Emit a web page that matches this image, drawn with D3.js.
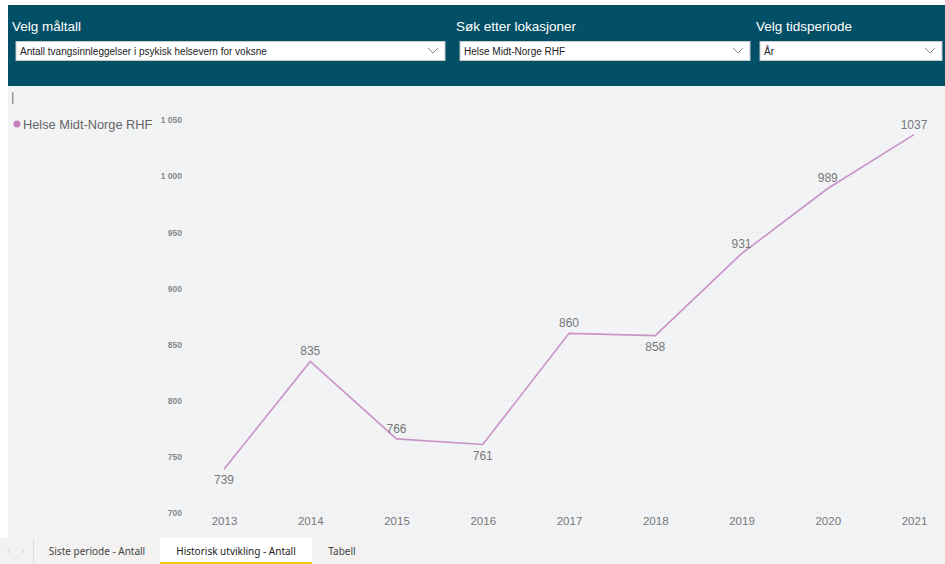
<!DOCTYPE html>
<html>
<head>
<meta charset="utf-8">
<script src="https://cdn.jsdelivr.net/npm/d3@7"></script>
<style>
  body { margin: 0; background: #fff; font-family: "Liberation Sans", Arial, sans-serif; }
  svg { display: block; }
</style>
</head>
<body>
<script>
const years = ["2013", "2014", "2015", "2016", "2017", "2018", "2019", "2020", "2021"];
const values = [739, 835, 766, 761, 860, 858, 931, 989, 1037];
const labelBelow = [true, false, false, true, false, true, false, false, false];
const yTicks = [700, 750, 800, 850, 900, 950, 1000, 1050];
const seriesName = "Helse Midt-Norge RHF";
const filters = [
  { title: "Velg måltall", value: "Antall tvangsinnleggelser i psykisk helsevern for voksne", x: 16, w: 429 },
  { title: "Søk etter lokasjoner", value: "Helse Midt-Norge RHF", x: 460, w: 290 },
  { title: "Velg tidsperiode", value: "År", x: 760, w: 182 }
];
const tabs = ["Siste periode - Antall", "Historisk utvikling - Antall", "Tabell"];

let width = 945,
    height = 564;

let svg = d3.select("body").append("svg")
    .attr("width", width)
    .attr("height", height);

// page background
svg.append("rect").attr("x", 8).attr("y", 86).attr("width", width - 8).attr("height", 452).attr("fill", "#f2f3f5");

// header band
svg.append("rect").attr("x", 8).attr("y", 5).attr("width", width - 8).attr("height", 81).attr("fill", "#034f66");

let f = svg.selectAll(".filter")
    .data(filters)
    .enter().append("g")
    .attr("class", "filter");

f.append("text")
    .attr("x", d => d.x - 4)
    .attr("y", 31)
    .attr("fill", "#fff")
    .attr("font-size", 13.5)
    .text(d => d.title);

f.append("rect")
    .attr("x", d => d.x)
    .attr("y", 41.5)
    .attr("width", d => d.w)
    .attr("height", 19)
    .attr("fill", "#fff")
    .attr("stroke", "#c8c8c8");

f.append("text")
    .attr("x", d => d.x + 4)
    .attr("y", 55)
    .attr("fill", "#222")
    .attr("font-size", 10)
    .text(d => d.value);

f.append("path")
    .attr("d", d => {
        let cx = d.x + d.w - 12;
        return `M${cx - 5},48 L${cx},53 L${cx + 5},48`;
    })
    .attr("fill", "none")
    .attr("stroke", "#888")
    .attr("stroke-width", 1);

// little gray marker
svg.append("rect").attr("x", 12).attr("y", 92).attr("width", 1.5).attr("height", 12).attr("fill", "#999");

// chart
let x = d3.scalePoint().domain(years).range([224, 914]);
let y = d3.scaleLinear().domain([700, 1050]).range([513, 120]);

let grid = svg.append("g");
grid.selectAll("line")
    .data(yTicks)
    .enter().append("line")
    .attr("x1", 188)
    .attr("x2", 945)
    .attr("y1", d => y(d))
    .attr("y2", d => y(d))
    .attr("stroke", "#dcdee2")
    .attr("stroke-dasharray", "1,3");

let yAxis = svg.append("g")
    .attr("transform", "translate(182,0)")
    .call(d3.axisLeft(y).tickValues(yTicks).tickSize(0).tickPadding(0)
        .tickFormat(d => d3.format(",")(d).replace(",", " ")));
yAxis.select(".domain").remove();
yAxis.selectAll("text")
    .attr("fill", "#888")
    .attr("font-size", 8.5)
    .attr("font-weight", "bold")
    .attr("font-family", "Liberation Sans, Arial, sans-serif")
    .attr("dy", "0.32em");

let xAxis = svg.append("g")
    .attr("transform", "translate(0,517)")
    .call(d3.axisBottom(x).tickSize(0).tickPadding(0));
xAxis.select(".domain").remove();
xAxis.selectAll("text")
    .attr("fill", "#777")
    .attr("font-size", 11.5)
    .attr("font-family", "Liberation Sans, Arial, sans-serif")
    .attr("dy", "0.71em");

let line = d3.line()
    .x((d, i) => x(years[i]))
    .y(d => y(d));

svg.append("path")
    .datum(values)
    .attr("d", line)
    .attr("fill", "none")
    .attr("stroke", "#c993c6")
    .attr("stroke-width", 1.6);

svg.selectAll(".labels")
    .data(values)
    .enter().append("text")
    .attr("class", "labels")
    .attr("text-anchor", "middle")
    .attr("x", (d, i) => x(years[i]))
    .attr("y", (d, i) => labelBelow[i] ? y(d) + 15 : y(d) - 6)
    .attr("fill", "#777")
    .attr("font-size", 12)
    .text(d => d);

// legend
svg.append("circle").attr("cx", 17).attr("cy", 124).attr("r", 3.5).attr("fill", "#c47fbc");
svg.append("text")
    .attr("x", 23)
    .attr("y", 129)
    .attr("fill", "#666")
    .attr("font-size", 12.8)
    .text(seriesName);

// tab bar
svg.append("rect").attr("x", 0).attr("y", 538).attr("width", width).attr("height", 26).attr("fill", "#f3f2f1");
svg.append("text").attr("x", 7).attr("y", 554).attr("fill", "#c4c4c4").attr("font-size", 8).text("‹");
svg.append("text").attr("x", 22).attr("y", 554).attr("fill", "#c4c4c4").attr("font-size", 8).text("›");
svg.append("line").attr("x1", 33.5).attr("x2", 33.5).attr("y1", 538).attr("y2", 564).attr("stroke", "#ddd");

let tabX = [34, 160, 312];
let tabW = [126, 152, 60];
let t = svg.selectAll(".tab")
    .data(tabs)
    .enter().append("g")
    .attr("class", "tab");
t.append("rect")
    .attr("x", (d, i) => tabX[i])
    .attr("y", 538)
    .attr("width", (d, i) => tabW[i])
    .attr("height", 26)
    .attr("fill", (d, i) => i == 1 ? "#fff" : "none");
t.append("text")
    .attr("x", (d, i) => tabX[i] + tabW[i] / 2)
    .attr("y", 555)
    .attr("text-anchor", "middle")
    .attr("fill", (d, i) => i == 1 ? "#222" : "#444")
    .attr("font-size", 10)
    .attr("font-family", "Noto Sans, sans-serif")
    .text(d => d);
svg.append("rect").attr("x", 160).attr("y", 562).attr("width", 152).attr("height", 2).attr("fill", "#f2c811");
</script>
</body>
</html>
